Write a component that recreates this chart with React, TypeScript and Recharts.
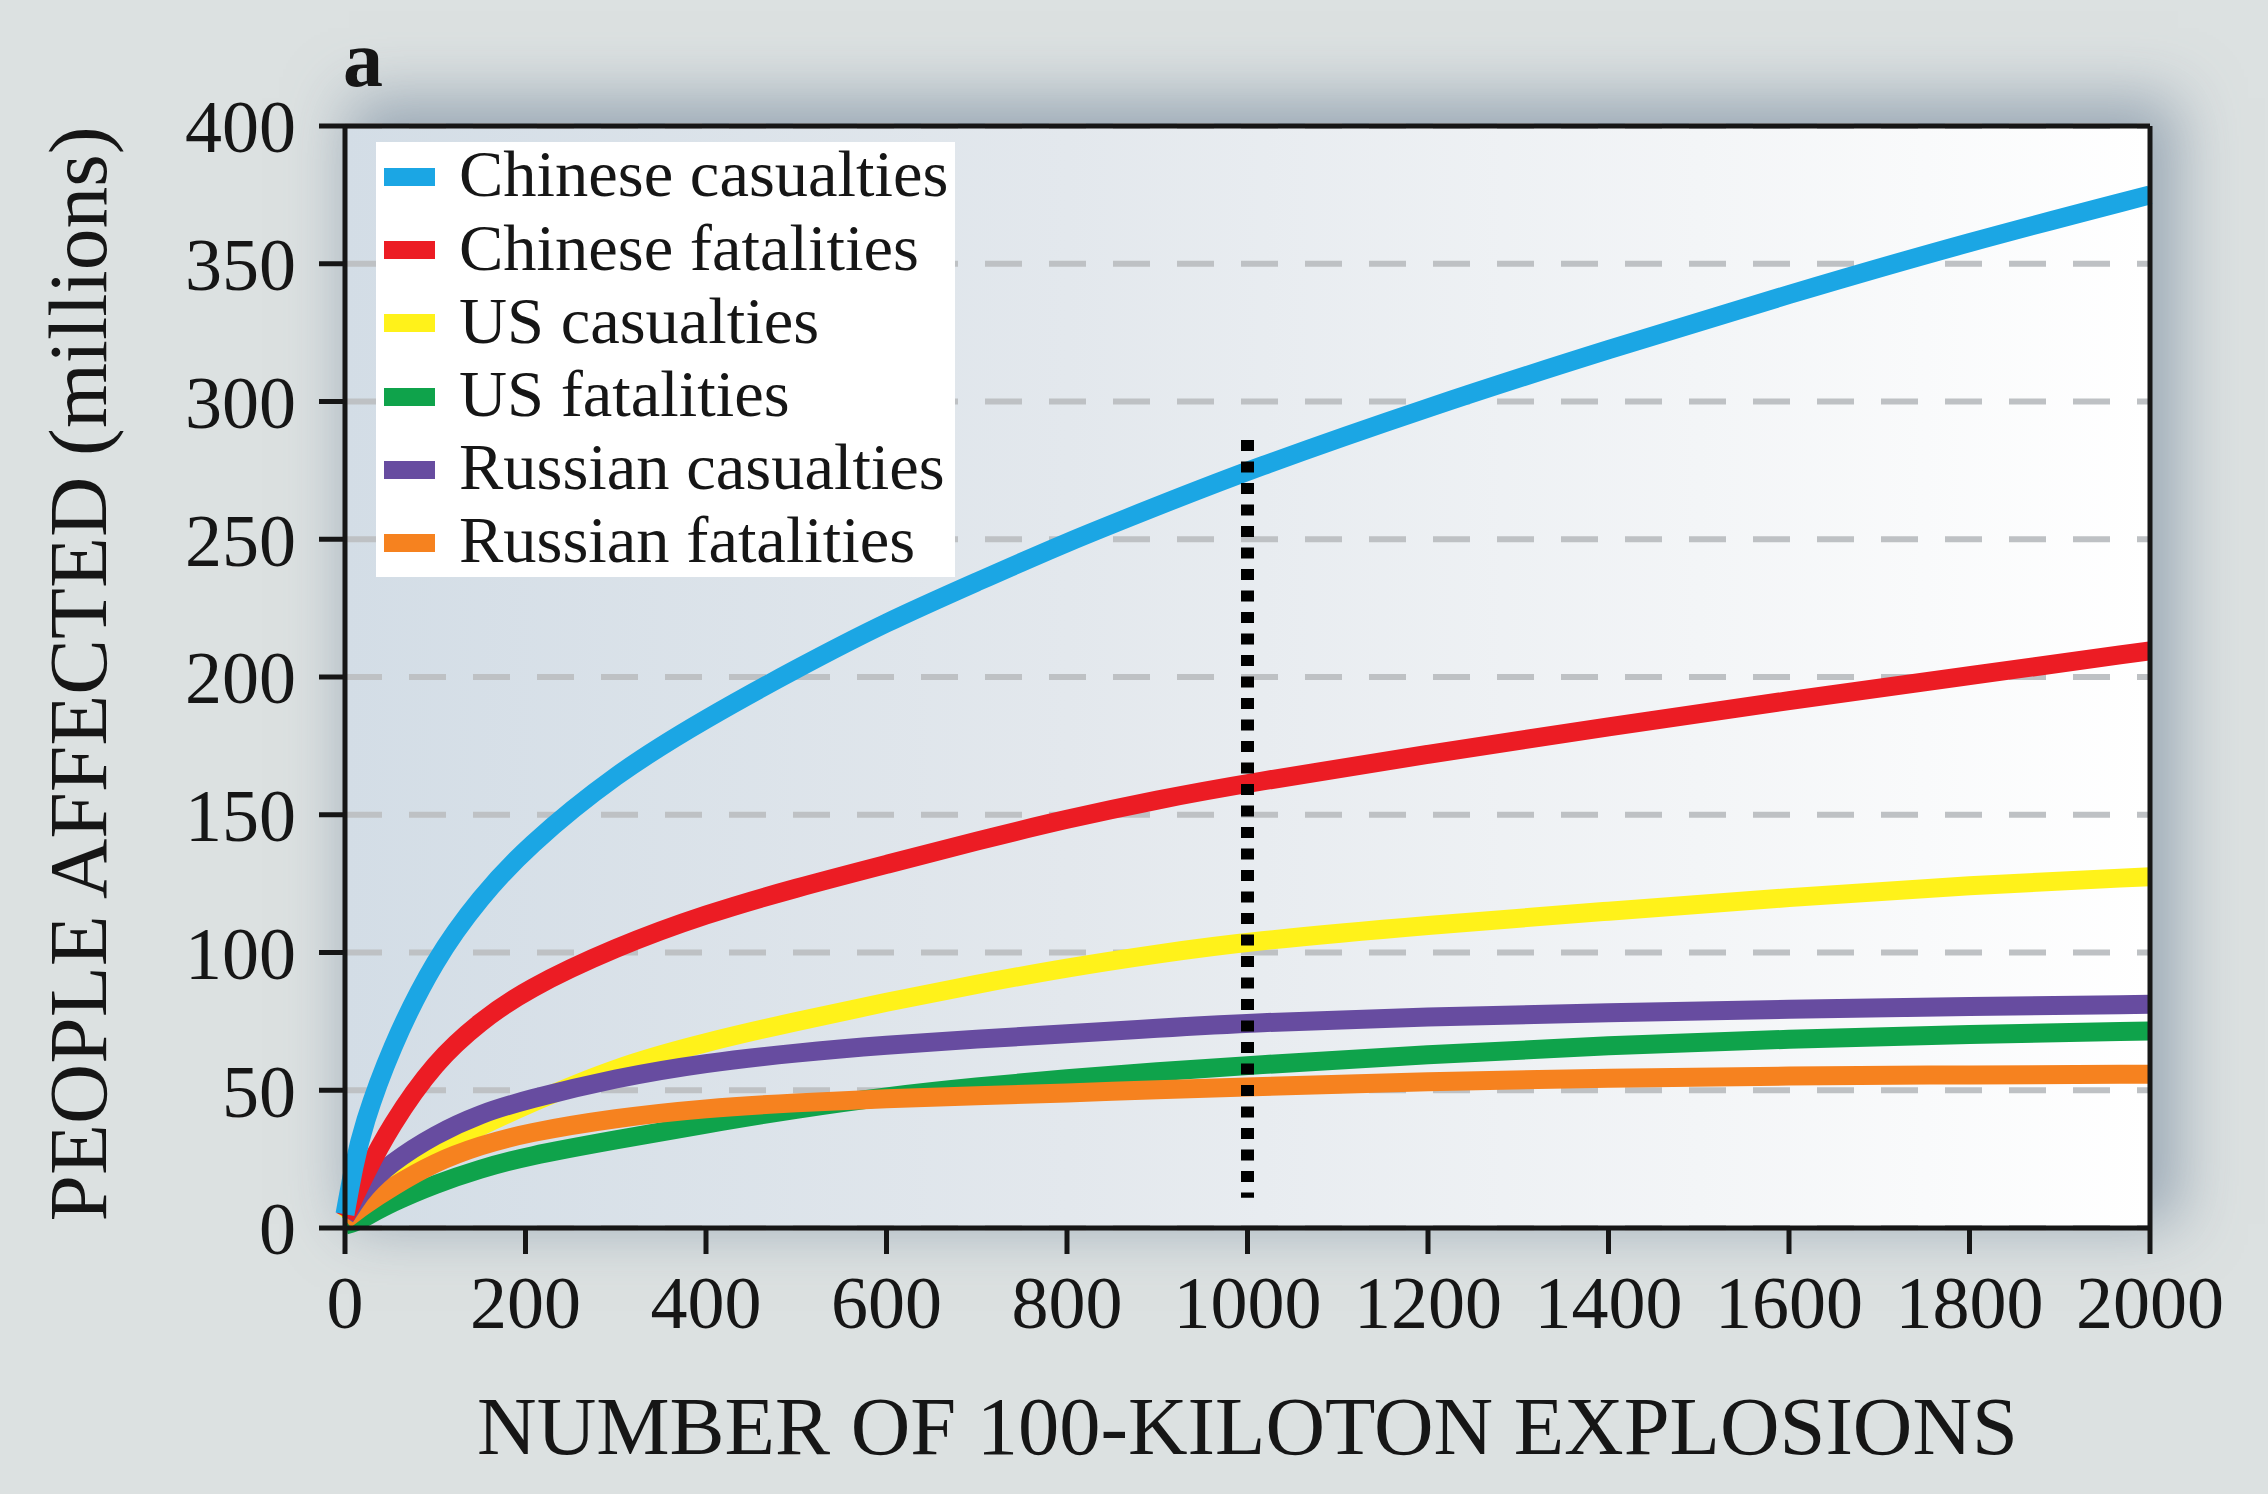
import React from 'react';
import { LineChart, Line, XAxis, YAxis, CartesianGrid, ReferenceLine, Legend } from 'recharts';

const explosions = [0, 10, 20, 50, 100, 150, 200, 300, 400, 500, 600, 700, 800, 900, 1000, 1200, 1400, 1600, 1800, 2000];
const chineseCasualties = [5, 23, 37, 65, 98, 120, 138, 165, 185, 203, 220, 234.5, 249, 262, 275, 298, 319, 339, 358, 375];
const chineseFatalities = [4, 11, 18, 37, 60.5, 75, 86.5, 102, 114, 123.5, 132, 140.5, 148.5, 155.5, 161.5, 172, 182, 191.5, 200.5, 209.5];
const usCasualties = [3, 7, 10.5, 17.5, 28.5, 37, 44.5, 58.5, 67.5, 75, 82, 88.5, 94.5, 99.5, 104, 110, 115, 120, 124.5, 127.5];
const usFatalities = [1, 2, 3.5, 9, 16, 21.5, 26, 32, 37.8, 43.2, 47.8, 51.3, 54.2, 56.8, 59, 63, 66.3, 68.6, 70.3, 71.5];
const russianCasualties = [4, 9, 14, 23.5, 34, 41.5, 46.5, 54.5, 60, 63.6, 66.4, 68.6, 70.5, 72.5, 74.5, 76.7, 78.2, 79.4, 80.4, 81.2];
const russianFatalities = [3, 5.5, 8, 14.5, 24, 30, 34.5, 40, 43.5, 45.5, 47, 48, 49, 50.2, 51.2, 53.2, 54.5, 55.2, 55.6, 55.8];

const xTicks = [0, 200, 400, 600, 800, 1000, 1200, 1400, 1600, 1800, 2000];
const yTicks = [0, 50, 100, 150, 200, 250, 300, 350, 400];

const seriesList = [
  { key: 'chineseCasualties', name: 'Chinese casualties', color: '#1ba6e4', values: chineseCasualties },
  { key: 'chineseFatalities', name: 'Chinese fatalities', color: '#ec1c24', values: chineseFatalities },
  { key: 'usCasualties', name: 'US casualties', color: '#fff21a', values: usCasualties },
  { key: 'usFatalities', name: 'US fatalities', color: '#0fa34b', values: usFatalities },
  { key: 'russianCasualties', name: 'Russian casualties', color: '#674ca0', values: russianCasualties },
  { key: 'russianFatalities', name: 'Russian fatalities', color: '#f6821f', values: russianFatalities },
];

// drawing order (bottom to top)
const drawOrder = ['usCasualties', 'usFatalities', 'russianFatalities', 'russianCasualties', 'chineseFatalities', 'chineseCasualties'];

const data = explosions.map((x, i) => {
  const row: Record<string, number> = { x };
  seriesList.forEach((s) => {
    row[s.key] = s.values[i];
  });
  return row;
});

const W = 2268;
const H = 1494;
const FONT = '"Liberation Serif", "Times New Roman", Times, serif';
const INK = '#161616';

const LegendBox = () => (
  <div
    style={{
      position: 'relative',
      width: 579,
      height: 435,
      background: '#ffffff',
      fontFamily: FONT,
    }}
  >
    {seriesList.map((s, i) => {
      const cy = 35 + i * 73.2;
      return (
        <div key={s.key} style={{ position: 'absolute', left: 0, top: cy - 36.6, height: 73.2, width: 579 }}>
          <div
            style={{
              position: 'absolute',
              left: 8,
              top: 36.6 - 9,
              width: 51,
              height: 18,
              background: s.color,
            }}
          />
          <div
            style={{
              position: 'absolute',
              left: 83,
              top: -3,
              height: 73.2,
              lineHeight: '73.2px',
              fontSize: 66.5,
              color: INK,
              whiteSpace: 'nowrap',
            }}
          >
            {s.name}
          </div>
        </div>
      );
    })}
  </div>
);

const YTitle = (props: any) => {
  const vb = props.viewBox || { x: 0, y: 126, width: 345, height: 1102 };
  const cx = vb.x + 106;
  const cy = vb.y + vb.height / 2 - 3;
  return (
    <text
      x={cx}
      y={cy}
      transform={`rotate(-90, ${cx}, ${cy})`}
      textAnchor="middle"
      fontFamily={FONT}
      fontSize={83.5}
      fill={INK}
    >
      PEOPLE AFFECTED (millions)
    </text>
  );
};

const XTitle = (props: any) => {
  const vb = props.viewBox || { x: 345, y: 1228, width: 1805, height: 266 };
  return (
    <text
      x={vb.x + vb.width / 2}
      y={vb.y + 226}
      textAnchor="middle"
      fontFamily={FONT}
      fontSize={82.5}
      fill={INK}
    >
      NUMBER OF 100-KILOTON EXPLOSIONS
    </text>
  );
};

const PanelLetter = (props: any) => {
  const vb = props.viewBox || { x: 345, y: 126 };
  return (
    <text x={vb.x - 2} y={vb.y - 40} fontFamily={FONT} fontSize={80} fontWeight="bold" fill={INK}>
      a
    </text>
  );
};

export default function App() {
  return (
    <div
      style={{
        position: 'absolute',
        left: 0,
        top: 0,
        width: W,
        height: H,
        background: '#dce1e1',
        overflow: 'hidden',
      }}
    >
      <div
        style={{
          position: 'absolute',
          left: 345,
          top: 126,
          width: 1805,
          height: 1102,
          background: '#e6eaee',
          boxShadow: '16px -16px 58px 12px rgba(100,122,145,0.55)',
        }}
      />
      <div style={{ position: 'absolute', left: 0, top: 0 }}>
        <LineChart width={W} height={H} data={data} margin={{ top: 126, right: 118, bottom: 0, left: 0 }}>
          <defs>
            <linearGradient id="plotBg" x1="0" y1="0" x2="1" y2="0">
              <stop offset="0%" stopColor="#d3dde6" />
              <stop offset="40%" stopColor="#e3e8ed" />
              <stop offset="75%" stopColor="#f3f5f7" />
              <stop offset="100%" stopColor="#ffffff" />
            </linearGradient>
          </defs>
          <CartesianGrid
            vertical={false}
            stroke="#bec1c4"
            strokeWidth={6}
            strokeDasharray="37 27"
            fill="url(#plotBg)"
            fillOpacity={1}
          />
          <XAxis
            dataKey="x"
            type="number"
            domain={[0, 2000]}
            ticks={xTicks}
            interval={0}
            height={266}
            tickSize={26}
            tickMargin={21}
            axisLine={{ stroke: INK, strokeWidth: 5 }}
            tickLine={{ stroke: INK, strokeWidth: 5 }}
            tick={{ fill: INK, fontSize: 74, fontFamily: FONT }}
            label={{ content: XTitle }}
          />
          <YAxis
            type="number"
            domain={[0, 400]}
            ticks={yTicks}
            interval={0}
            width={345}
            tickSize={26}
            tickMargin={23}
            axisLine={{ stroke: INK, strokeWidth: 5 }}
            tickLine={{ stroke: INK, strokeWidth: 5 }}
            tick={{ fill: INK, fontSize: 74, fontFamily: FONT }}
            label={{ content: YTitle }}
          />
          <Legend
            layout="vertical"
            align="center"
            verticalAlign="middle"
            wrapperStyle={{ left: 376, top: 142, width: 579, height: 435 }}
            content={() => <LegendBox />}
          />
          {drawOrder.map((k) => {
            const s = seriesList.find((t) => t.key === k)!;
            return (
              <Line
                key={s.key}
                type="basis"
                dataKey={s.key}
                name={s.name}
                stroke={s.color}
                strokeWidth={19}
                dot={false}
                activeDot={false}
                isAnimationActive={false}
              />
            );
          })}
          <ReferenceLine
            segment={[
              { x: 1000, y: 286 },
              { x: 1000, y: 11 },
            ]}
            stroke="#000000"
            strokeWidth={13}
            strokeDasharray="11 10.5"
          />
          <ReferenceLine y={400} stroke={INK} strokeWidth={5} label={{ content: PanelLetter }} />
          <ReferenceLine x={2000} stroke={INK} strokeWidth={5} />
        </LineChart>
      </div>
    </div>
  );
}
